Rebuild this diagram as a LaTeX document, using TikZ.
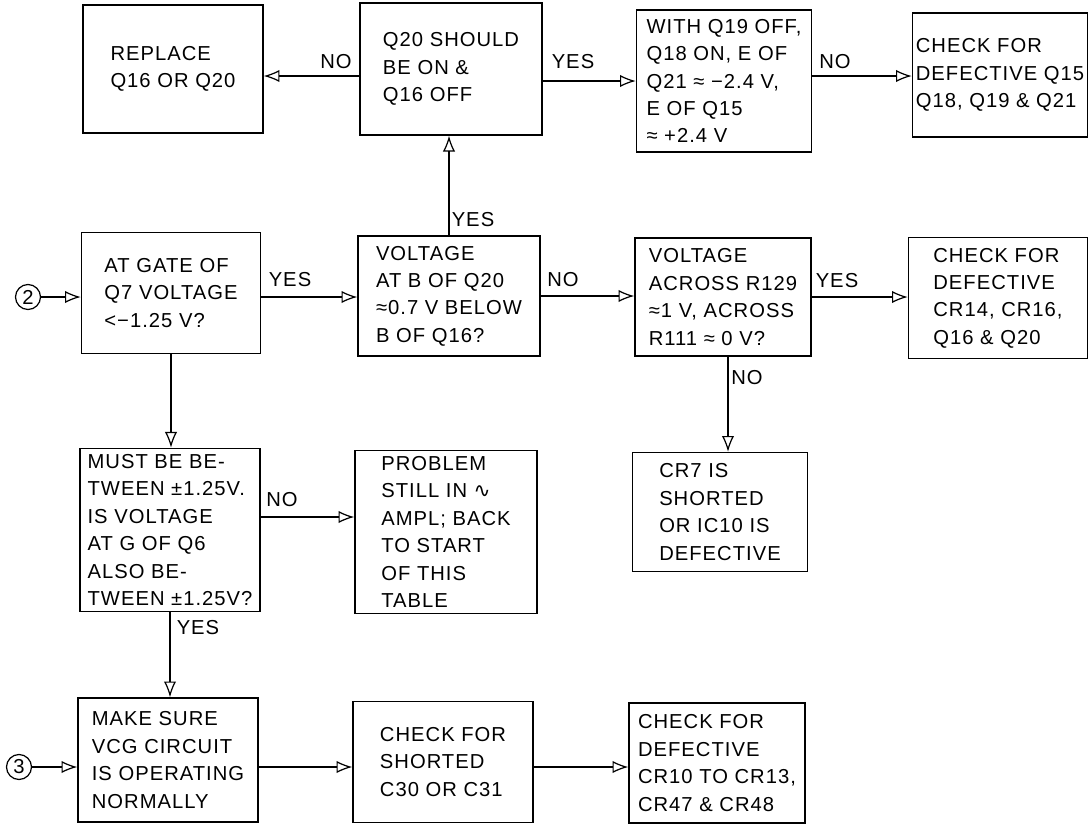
\documentclass[tikz,border=0pt]{standalone}
\usepackage{fontspec}
\setmainfont{Liberation Sans}[LetterSpace=5]
\newfontfamily\wavefont{DejaVu Sans}
\usetikzlibrary{arrows.meta}

\begin{document}
\begin{tikzpicture}[x=0.02cm, y=-0.02cm,
    box/.style={draw, line width=0.8pt, align=left, inner xsep=1pt,
      font=\fontsize{11.5}{15.6}\selectfont},
    lbl/.style={font=\fontsize{11.5}{14.8}\selectfont},
    conn/.style={line width=0.7pt, -{Latex[open, length=9pt, width=7pt]}},
    marker/.style={draw, circle, line width=0.7pt, inner sep=0pt,
      minimum size=0.5cm, font=\fontsize{11.5}{13}\selectfont}]
    \useasboundingbox (0,0) rectangle (1090,826);

    % Top row
    \node[box, minimum width=3.6cm, minimum height=2.56cm] (replace) at (173,69) {REPLACE\\Q16 OR Q20};
    \node[box, minimum width=3.64cm, minimum height=2.64cm] (qon) at (451,69) {Q20 SHOULD\\BE ON \&\\Q16 OFF};
    \node[box, minimum width=3.5cm, minimum height=2.84cm] (qoff) at (724,81) {WITH Q19 OFF,\\Q18 ON, E OF\\Q21 ≈ −2.4 V,\\E OF Q15\\≈ +2.4 V};
    \node[box, minimum width=3.5cm, minimum height=2.48cm] (chkA) at (1000,75) {CHECK FOR\\DEFECTIVE Q15\\Q18, Q19 \& Q21};

    % Second row
    \node[marker] (in2) at (28,297) {2};
    \node[box, minimum width=3.58cm, minimum height=2.42cm] (gate) at (171,293) {AT GATE OF\\Q7 VOLTAGE\\<−1.25 V?};
    \node[box, minimum width=3.64cm, minimum height=2.4cm] (base) at (449,296) {VOLTAGE\\AT B OF Q20\\≈0.7 V BELOW\\B OF Q16?};
    \node[box, minimum width=3.52cm, minimum height=2.36cm] (across) at (723,297) {VOLTAGE\\ACROSS R129\\≈1 V, ACROSS\\R111 ≈ 0 V?};
    \node[box, minimum width=3.58cm, minimum height=2.42cm] (chkB) at (998,298) {CHECK FOR\\DEFECTIVE\\CR14, CR16,\\Q16 \& Q20};

    % Third row
    \node[box, minimum width=3.6cm, minimum height=3.12cm] (must) at (170,530) {MUST BE BE-\\TWEEN ±1.25V.\\IS VOLTAGE\\AT G OF Q6\\ALSO BE-\\TWEEN ±1.25V?};
    \node[box, minimum width=3.64cm, minimum height=3.16cm] (problem) at (446,532) {PROBLEM\\STILL IN {\wavefont ∿}\\AMPL; BACK\\TO START\\OF THIS\\TABLE};
    \node[box, minimum width=3.5cm, minimum height=2.38cm] (shorted) at (720,512) {CR7 IS\\SHORTED\\OR IC10 IS\\DEFECTIVE};

    % Bottom row
    \node[marker] (in3) at (19,767) {3};
    \node[box, minimum width=3.6cm, minimum height=2.48cm] (vcg) at (168,760) {MAKE SURE\\VCG CIRCUIT\\IS OPERATING\\NORMALLY};
    \node[box, minimum width=3.6cm, minimum height=2.42cm] (caps) at (443,762) {CHECK FOR\\SHORTED\\C30 OR C31};
    \node[box, minimum width=3.52cm, minimum height=2.4cm] (chkC) at (717,763) {CHECK FOR\\DEFECTIVE\\CR10 TO CR13,\\CR47 \& CR48};

    % Connectors
    \draw[conn] ([yshift=-0.14cm]qon.west) -- ([yshift=-0.14cm]qon.west -| replace.east);
    \draw[conn] (qon.east |- qoff.west) -- (qoff.west);
    \draw[conn] ([yshift=0.1cm]qoff.east) -- ([yshift=0.1cm]qoff.east -| chkA.west);
    \draw[conn] (in2) -- (in2 -| gate.west);
    \draw[conn] (in2 -| gate.east) -- (in2 -| base.west);
    \draw[conn] (base.north) -- (base.north |- qon.south);
    \draw[conn] (base.east) -- (base.east -| across.west);
    \draw[conn] (across.east) -- (across.east -| chkB.west);
    \draw[conn] ([xshift=0.1cm]across.south) -- ([xshift=0.1cm]across.south |- shorted.north);
    \draw[conn] (gate.south) -- (gate.south |- must.north);
    \draw[conn] ([yshift=0.26cm]must.east) -- ([yshift=0.26cm]must.east -| problem.west);
    \draw[conn] (must.south) -- (must.south |- vcg.north);
    \draw[conn] (in3) -- (in3 -| vcg.west);
    \draw[conn] (in3 -| vcg.east) -- (in3 -| caps.west);
    \draw[conn] (in3 -| caps.east) -- (in3 -| chkC.west);

    % Branch labels
    \node[lbl] (no1) at (336,62) {NO};
    \node[lbl] (yes1) at (573,62) {YES};
    \node[lbl] (no2) at (835,62) {NO};
    \node[lbl] (yes2) at (290,280) {YES};
    \node[lbl] (yes3) at (473,220) {YES};
    \node[lbl] (no3) at (563,280) {NO};
    \node[lbl] (yes4) at (837,281) {YES};
    \node[lbl] (no4) at (747,378) {NO};
    \node[lbl] (no5) at (282,500) {NO};
    \node[lbl] (yes5) at (198,628) {YES};
\end{tikzpicture}
\end{document}
